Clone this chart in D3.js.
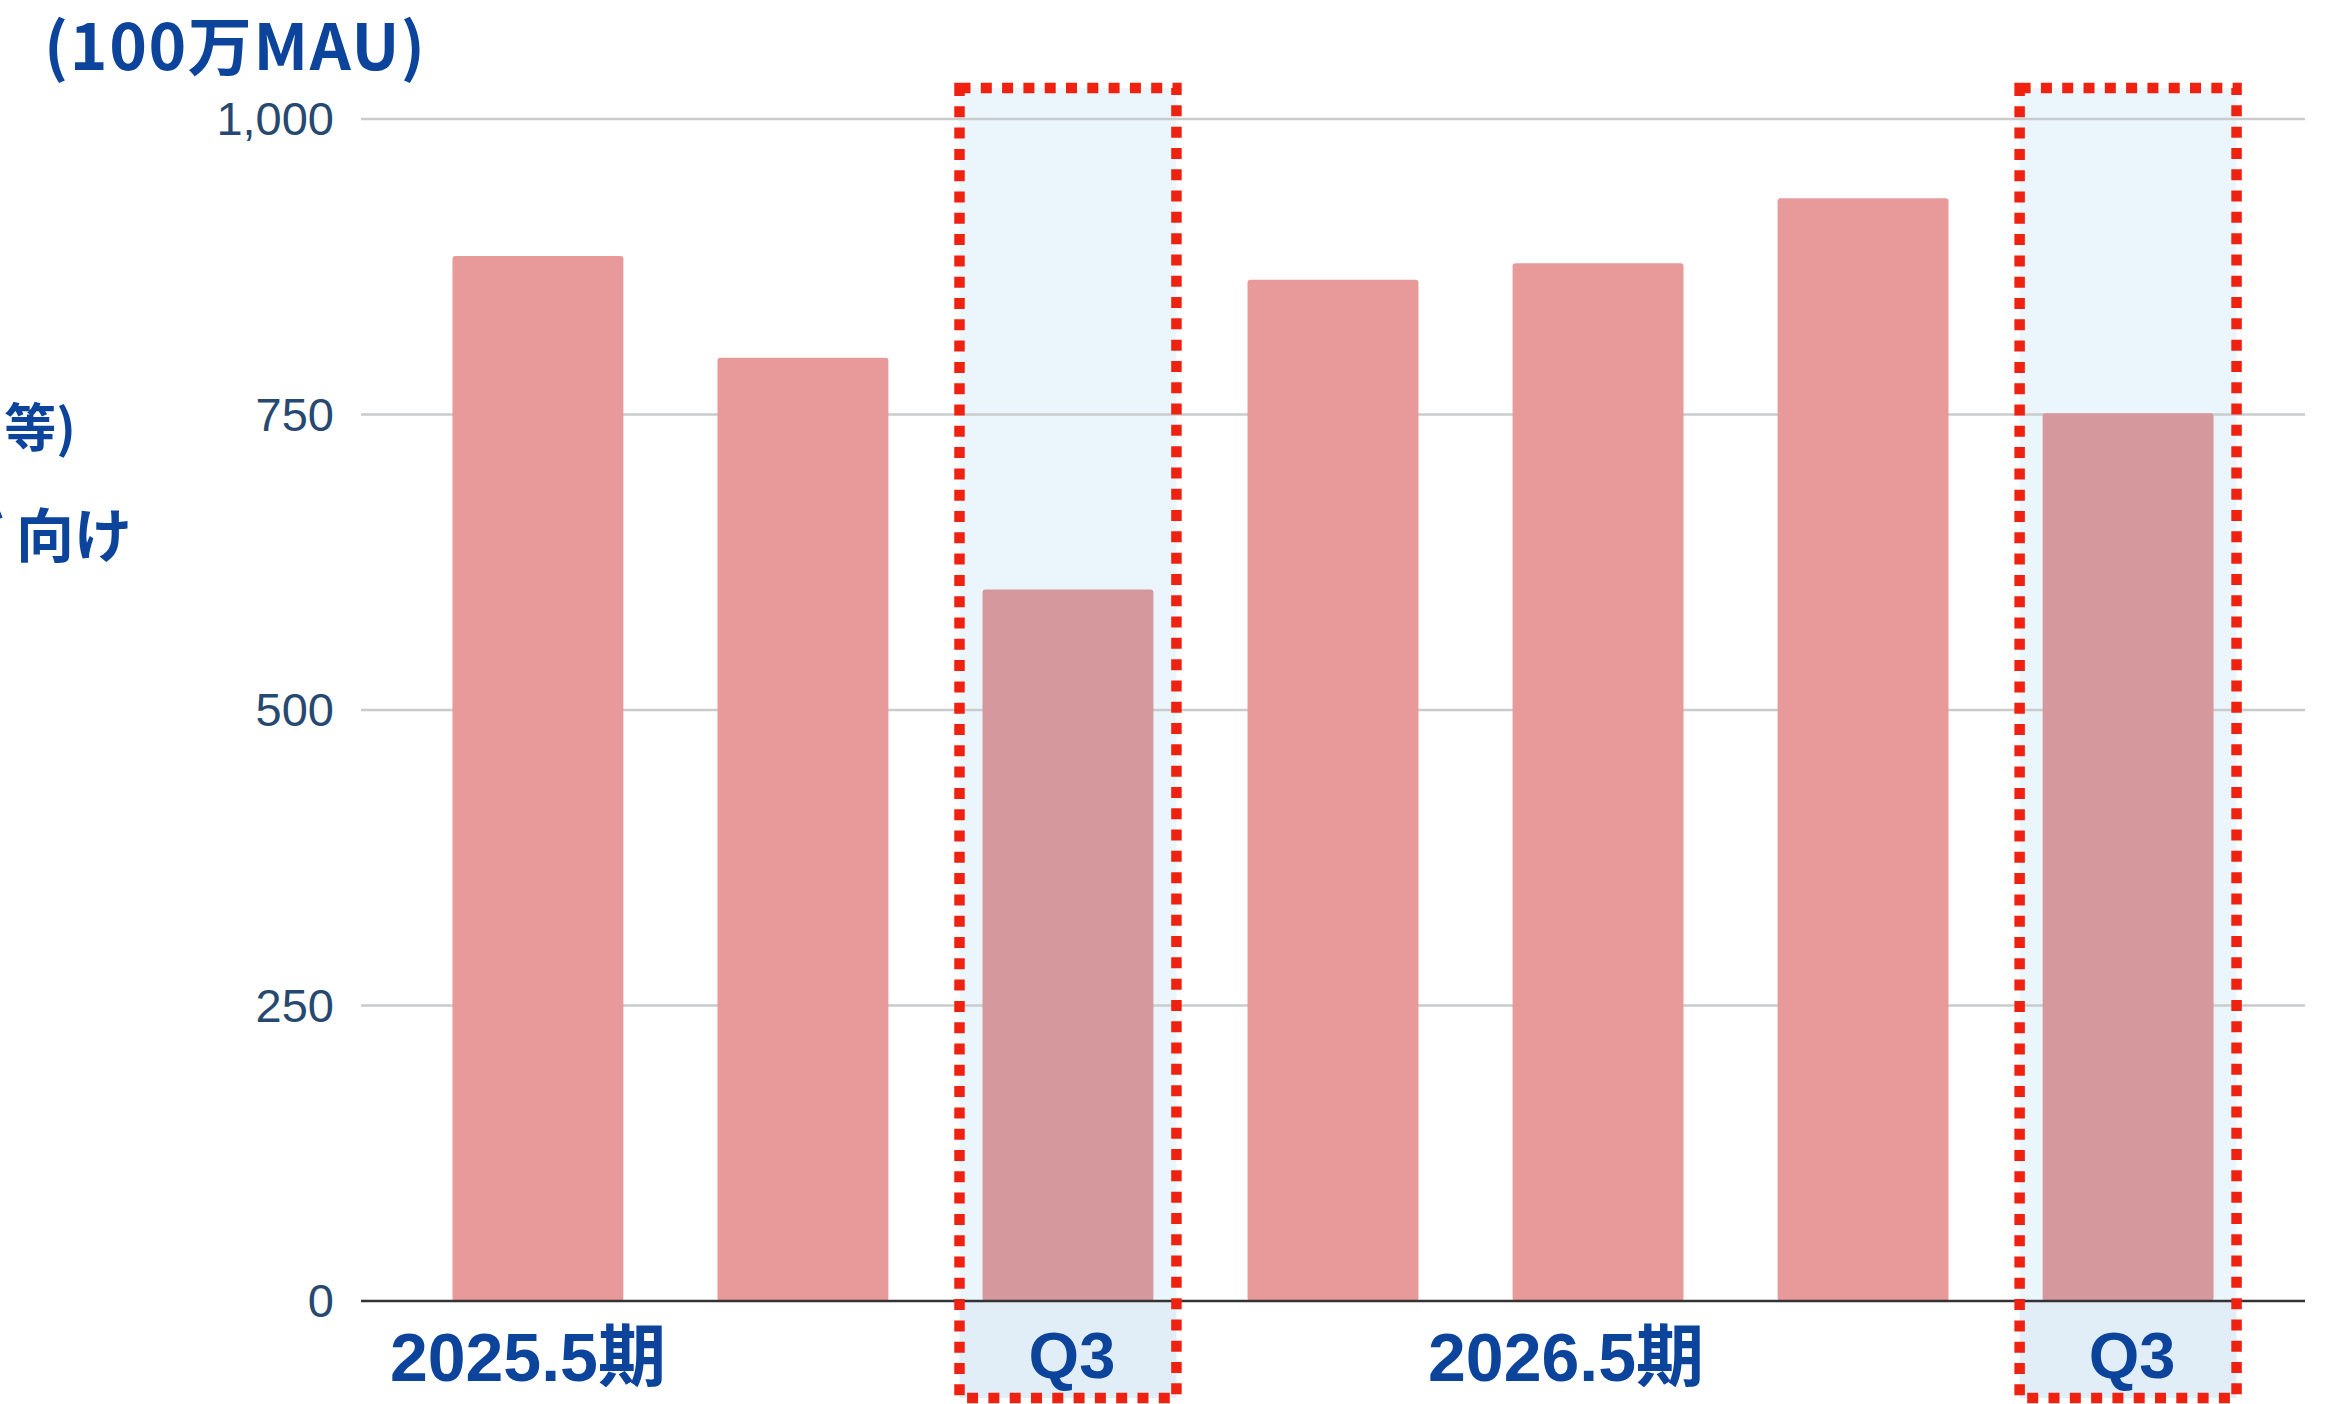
<!DOCTYPE html>
<html><head><meta charset="utf-8">
<script src="https://cdn.jsdelivr.net/npm/d3@7/dist/d3.min.js"></script>
<style>
html,body{margin:0;padding:0;background:#fff;overflow:hidden;}
svg{display:block;}
</style></head>
<body>
<svg id="chart" width="2330" height="1404"></svg>
<script>
// ---- data ----
const categories = ["FY25 Q1","FY25 Q2","FY25 Q3","FY25 Q4","FY26 Q1","FY26 Q2","FY26 Q3"];
const values = [884, 798, 602, 864, 878, 933, 751];
const highlighted = ["FY25 Q3","FY26 Q3"];
const highlightLabel = "Q3";
const yTicks = [0, 250, 500, 750, 1000];
const fyLabels = [{text:"2025.5期", at:"FY25 Q1", shift:-10}, {text:"2026.5期", at:"FY26 Q1", shift:-32}];
const unitLabel = "(100万MAU)";
const clippedLabels = [
  {head:"(ゲーム", tail:"等)", gap:4, x:76, y:447, size:52},
  {head:"ユーザ", tail:"向け", gap:12, x:132, y:557, size:58}
];

// ---- layout ----
const svg = d3.select("#chart");
const plotLeft = 361, plotRight = 2305, plotTop = 119, plotBottom = 1301;
const x = d3.scaleBand().domain(categories).range([plotLeft, plotRight]).paddingInner(0.355).paddingOuter(0.345);
const y = d3.scaleLinear().domain([0, 1000]).range([plotBottom, plotTop]);
const blue = "#0c449c";

// highlight fills
const pad = 23;
highlighted.forEach(c => {
  const x0 = x(c) - pad, w = x.bandwidth() + pad * 2;
  svg.append("rect").attr("x", x0).attr("y", 88).attr("width", w).attr("height", plotBottom - 88).attr("fill", "#ebf6fc");
  svg.append("rect").attr("x", x0).attr("y", plotBottom).attr("width", w).attr("height", 1398 - plotBottom).attr("fill", "#e1eef7");
});

// gridlines
svg.append("g").selectAll("line").data(yTicks.filter(d => d > 0)).join("line")
  .attr("x1", plotLeft).attr("x2", plotRight)
  .attr("y1", d => y(d)).attr("y2", d => y(d))
  .attr("stroke", "#c9cbcd").attr("stroke-width", 2.5);

// y axis labels
const yAxis = d3.axisLeft(y).tickValues(yTicks).tickFormat(d3.format(",")).tickSize(0).tickPadding(27);
const gy = svg.append("g").attr("transform", `translate(${plotLeft},0)`).call(yAxis);
gy.select(".domain").remove();
gy.selectAll("text").attr("font-family", "'Liberation Sans', Arial, sans-serif")
  .attr("font-size", 47).attr("fill", "#274870").attr("dy", "0.33em");

// bars
svg.append("g").selectAll("rect").data(categories).join("rect")
  .attr("x", d => x(d)).attr("width", x.bandwidth())
  .attr("y", (d, i) => y(values[i])).attr("height", (d, i) => y(0) - y(values[i]))
  .attr("rx", 3)
  .attr("fill", d => highlighted.includes(d) ? "#d4989d" : "#e8999a");

// baseline
svg.append("line").attr("x1", plotLeft).attr("x2", plotRight).attr("y1", y(0)).attr("y2", y(0))
  .attr("stroke", "#333").attr("stroke-width", 2.5);

// highlight borders + labels
highlighted.forEach(c => {
  const x0 = x(c) - pad, w = x.bandwidth() + pad * 2;
  svg.append("rect").attr("x", x0).attr("y", 88).attr("width", w).attr("height", 1398 - 88)
    .attr("fill", "none").attr("stroke", "#ef2211").attr("stroke-width", 10.5)
    .attr("stroke-dasharray", "11 10.3");
  svg.append("text").attr("x", x(c) + x.bandwidth() / 2 + 4).attr("y", 1378)
    .attr("text-anchor", "middle").attr("font-family", "'Liberation Sans', Arial, sans-serif")
    .attr("font-weight", "bold").attr("font-size", 65).attr("fill", blue).text(highlightLabel);
});

// fiscal year labels
fyLabels.forEach(f => {
  svg.append("text").attr("x", x(f.at) + x.bandwidth() / 2 + f.shift).attr("y", 1381)
    .attr("text-anchor", "middle").attr("font-family", "'Liberation Sans', 'Noto Sans CJK JP', sans-serif")
    .attr("font-weight", "bold").attr("font-size", 68).attr("fill", blue).text(f.text);
});

// unit label
svg.append("text").attr("x", 44).attr("y", 70)
  .attr("font-family", "'Noto Sans CJK JP', sans-serif").attr("font-weight", "bold")
  .attr("letter-spacing", 1.6)
  .attr("font-size", 64).attr("fill", blue).text(unitLabel);

// clipped left labels (cut off by the left edge, as in the reference)
clippedLabels.forEach(l => {
  const t = svg.append("text").attr("x", l.x).attr("y", l.y).attr("text-anchor", "end")
    .attr("font-family", "'Noto Sans CJK JP', sans-serif").attr("font-weight", "bold")
    .attr("font-size", l.size).attr("fill", blue);
  t.append("tspan").text(l.head);
  t.append("tspan").attr("dx", l.gap).text(l.tail);
});
</script>
</body></html>
